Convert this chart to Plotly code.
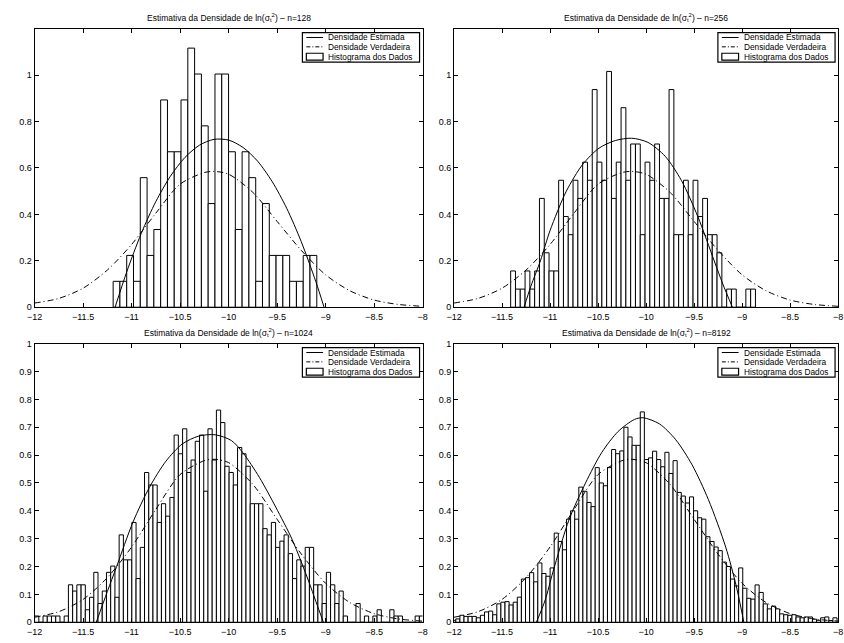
import numpy as np
import plotly.graph_objects as go

# ---------------------------------------------------------------------------
# Data
# ---------------------------------------------------------------------------
sample_sizes = [128, 256, 1024, 8192]

# Histogram n=128: 30 bins starting at -11.19, width 0.07 (counts per bin)
h128_start, h128_width = -11.19, 0.07
h128_counts = [1, 1, 2, 1, 5, 2, 3, 8, 6, 6, 8, 10, 9, 7, 4, 9, 9, 6, 3, 6,
               5, 1, 4, 2, 2, 2, 1, 1, 2, 2]

# Histogram n=256: 51 bins starting at -11.41, width 0.05
h256_start, h256_width = -11.41, 0.05
h256_counts = [2, 1, 1, 2, 1, 2, 6, 3, 2, 2, 7, 5, 4, 7, 6, 8, 7, 12, 8, 7,
               13, 6, 8, 11, 7, 9, 9, 4, 8, 7, 9, 6, 6, 12, 4, 4, 7, 4, 7, 5,
               6, 4, 4, 3, 0, 1, 1, 0, 0, 1, 1]

# Histogram n=1024: 92 bins starting at -12.0, width 0.0436
h1024_start, h1024_width = -12.0, 0.0436
h1024_counts = [1, 0, 1, 1, 1, 1, 0, 1,
                6, 5, 6, 6, 2, 4, 8, 3, 5, 8, 9, 4,
                14, 10, 10, 16, 7, 12, 24, 22, 22, 16, 19, 17, 20,
                30, 27, 31, 24, 26, 29, 30, 21, 31, 26, 34, 32, 25,
                24, 22, 28, 27, 25, 19, 19, 19, 15, 14, 16, 12, 13, 14, 11,
                7, 10, 9, 12, 12, 6, 6, 3, 8, 6, 3, 5,
                1, 0, 0, 3, 0, 1, 0, 1, 2, 0, 0, 2, 1, 1, 0, 0, 0, 1, 1]

# Histogram n=8192: 94 bins starting at -12.024, width 0.0427 (densities)
h8192_start, h8192_width = -12.024, 0.0427
h8192_dens = [0.007, 0.012, 0.025, 0.021, 0.021, 0.021, 0.016, 0.025, 0.037, 0.040,
              0.027, 0.066, 0.072, 0.074, 0.062, 0.072, 0.090, 0.155, 0.160, 0.178,
              0.145, 0.213, 0.175, 0.165, 0.195, 0.320, 0.290, 0.260, 0.370, 0.400,
              0.370, 0.485, 0.470, 0.430, 0.415, 0.555, 0.500, 0.490, 0.555, 0.620,
              0.605, 0.615, 0.700, 0.665, 0.635, 0.635, 0.755, 0.584, 0.590, 0.614,
              0.584, 0.558, 0.610, 0.534, 0.580, 0.466, 0.453, 0.428, 0.450, 0.400,
              0.375, 0.370, 0.307, 0.290, 0.270, 0.257, 0.216, 0.200, 0.155, 0.130,
              0.195, 0.122, 0.086, 0.083, 0.134, 0.107, 0.066, 0.048, 0.058, 0.048,
              0.030, 0.027, 0.025, 0.027, 0.019, 0.016, 0.019, 0.019, 0.011, 0.007,
              0.016, 0.019, 0.006, 0.016]

# True density (same in every panel)
true_x = [-12.0, -11.75, -11.5, -11.25, -11.0, -10.75, -10.5, -10.25, -10.15,
          -10.0, -9.75, -9.5, -9.25, -9.0, -8.75, -8.5, -8.25, -8.0]
true_y = [0.018, 0.038, 0.082, 0.160, 0.270, 0.405, 0.530, 0.580, 0.585,
          0.573, 0.495, 0.370, 0.245, 0.140, 0.071, 0.031, 0.012, 0.004]

# Estimated densities
est128_x = [-11.17, -11.05, -10.9, -10.75, -10.6, -10.45, -10.3, -10.15, -10.0,
            -9.85, -9.7, -9.55, -9.4, -9.25, -9.1, -9.015]
est128_y = [0.0, 0.152, 0.318, 0.455, 0.564, 0.645, 0.698, 0.723, 0.720,
            0.688, 0.629, 0.541, 0.426, 0.282, 0.110, 0.0]

est256_x = [-11.27, -11.2, -11.1, -11.0, -10.83, -10.66, -10.49, -10.32, -10.15,
            -9.98, -9.8, -9.63, -9.46, -9.29, -9.2, -9.1]
est256_y = [0.0, 0.09, 0.20, 0.33, 0.50, 0.615, 0.685, 0.718, 0.728,
            0.710, 0.650, 0.545, 0.390, 0.200, 0.100, 0.0]

est1024_x = [-11.364, -11.25, -11.154, -10.985, -10.816, -10.646, -10.477, -10.308,
             -10.139, -9.97, -9.851, -9.682, -9.513, -9.343, -9.175, -9.1, -9.022]
est1024_y = [0.0, 0.11, 0.20, 0.36, 0.484, 0.578, 0.640, 0.668,
             0.673, 0.652, 0.608, 0.520, 0.413, 0.296, 0.148, 0.075, 0.0]

est8192_x = [-11.142, -11.05, -10.97, -10.8, -10.63, -10.46, -10.29, -10.12, -10.03,
             -9.86, -9.69, -9.52, -9.35, -9.17, -9.06, -8.981]
est8192_y = [0.0, 0.08, 0.18, 0.37, 0.50, 0.61, 0.685, 0.728, 0.734,
             0.712, 0.655, 0.565, 0.440, 0.270, 0.130, 0.0]

x_ticks = [-12, -11.5, -11, -10.5, -10, -9.5, -9, -8.5, -8]
y_ticks_top = [0, 0.2, 0.4, 0.6, 0.8, 1]
y_ticks_bottom = [0, 0.1, 0.2, 0.3, 0.4, 0.5, 0.6, 0.7, 0.8, 0.9, 1]

legend_labels = ["Densidade Estimada", "Densidade Verdadeira", "Histograma dos Dados"]

# ---------------------------------------------------------------------------
# Figure
# ---------------------------------------------------------------------------
W, H = 844, 643
FONT = "Liberation Sans, Arial, Helvetica, sans-serif"
DASHDOT = "6px,3px,1px,3px"

hist_heights = [
    [c / (sample_sizes[0] * h128_width) for c in h128_counts],
    [c / (sample_sizes[1] * h256_width) for c in h256_counts],
    [c / (sample_sizes[2] * h1024_width) for c in h1024_counts],
    h8192_dens,
]
hist_starts = [h128_start, h256_start, h1024_start, h8192_start]
hist_widths = [h128_width, h256_width, h1024_width, h8192_width]
est_curves = [(est128_x, est128_y), (est256_x, est256_y),
              (est1024_x, est1024_y), (est8192_x, est8192_y)]

# panel boxes in pixels: (left, right, top, bottom)
boxes = [(27, 421, 24, 307), (453, 843, 24, 307),
         (27, 421, 344, 627), (453, 843, 344, 627)]
y_ranges = [[0, 1.2], [0, 1.2], [0, 1.0], [0, 1.0]]
y_tick_sets = [y_ticks_top, y_ticks_top, y_ticks_bottom, y_ticks_bottom]


def px(x):
    return x / W


def py(y):
    return (H - y) / H


fig = go.Figure()
shapes = []
annotations = []
layout = dict(
    width=W, height=H,
    margin=dict(l=0, r=0, t=0, b=0),
    paper_bgcolor="white", plot_bgcolor="white",
    font=dict(family=FONT, size=9, color="black"),
    showlegend=False,
)

for i in range(4):
    sfx = "" if i == 0 else str(i + 1)
    xa, ya = "x" + sfx, "y" + sfx
    left, right, top, bottom = boxes[i]

    ex, ey = est_curves[i]
    fig.add_trace(go.Scatter(
        x=ex, y=ey, mode="lines", name=legend_labels[0],
        line=dict(color="black", width=1, shape="spline", smoothing=0.8),
        xaxis=xa, yaxis=ya, hoverinfo="skip"))
    fig.add_trace(go.Scatter(
        x=true_x, y=true_y, mode="lines", name=legend_labels[1],
        line=dict(color="black", width=1, shape="spline", smoothing=0.8,
                  dash=DASHDOT),
        xaxis=xa, yaxis=ya, hoverinfo="skip"))

    w = hist_widths[i]
    heights = hist_heights[i]
    centers = [hist_starts[i] + w * (k + 0.5) for k in range(len(heights))]
    fig.add_trace(go.Bar(
        x=centers, y=heights, width=w, name=legend_labels[2],
        marker=dict(color="white", line=dict(color="black", width=1)),
        xaxis=xa, yaxis=ya, hoverinfo="skip"))

    axis_common = dict(
        showline=True, linecolor="black", linewidth=1, mirror="ticks",
        ticks="inside", ticklen=4, tickcolor="black", tickwidth=1,
        showgrid=False, zeroline=False,
        tickfont=dict(family=FONT, size=9, color="black"),
    )
    layout["xaxis" + sfx] = dict(
        axis_common, domain=[px(left), px(right)], anchor=ya,
        range=[-12, -8], tickvals=x_ticks, ticklabelstandoff=1)
    layout["yaxis" + sfx] = dict(
        axis_common, domain=[py(bottom), py(top)], anchor=xa,
        range=y_ranges[i], tickvals=y_tick_sets[i])

    # compact legend box in the upper right corner of each panel
    lx0, lx1 = right - 122, right - 3
    ly0, ly1 = top + 4, top + 34
    shapes.append(dict(type="rect", xref="paper", yref="paper",
                       x0=px(lx0), x1=px(lx1), y0=py(ly1), y1=py(ly0),
                       line=dict(color="black", width=1.2), fillcolor="white",
                       layer="above"))
    rows = [ly0 + 5, ly0 + 14.5, ly0 + 24.5]
    sx0, sx1 = lx0 + 4, lx0 + 21
    shapes.append(dict(type="line", xref="paper", yref="paper",
                       x0=px(sx0), x1=px(sx1), y0=py(rows[0]), y1=py(rows[0]),
                       line=dict(color="black", width=1), layer="above"))
    shapes.append(dict(type="line", xref="paper", yref="paper",
                       x0=px(sx0), x1=px(sx1), y0=py(rows[1]), y1=py(rows[1]),
                       line=dict(color="black", width=1, dash="4px,2px,1px,2px"),
                       layer="above"))
    shapes.append(dict(type="rect", xref="paper", yref="paper",
                       x0=px(sx0), x1=px(sx1), y0=py(rows[2] + 3.5), y1=py(rows[2] - 3.5),
                       line=dict(color="black", width=1.2), fillcolor="white",
                       layer="above"))
    for r, lab in zip(rows, legend_labels):
        annotations.append(dict(
            text=lab, x=px(lx0 + 24), y=py(r), xref="paper", yref="paper",
            xanchor="left", yanchor="middle", showarrow=False,
            font=dict(family=FONT, size=8.3, color="black")))

    annotations.append(dict(
        text="Estimativa da Densidade de ln(σ<sub>t</sub><sup>2</sup>) – n=%d" % sample_sizes[i],
        x=px((left + right) / 2), y=py(top - 11),
        xref="paper", yref="paper", xanchor="center", yanchor="middle",
        showarrow=False, font=dict(family=FONT, size=8.5, color="black")))

layout["shapes"] = shapes
layout["annotations"] = annotations
fig.update_layout(**layout)
fig.write_html("out.html")
